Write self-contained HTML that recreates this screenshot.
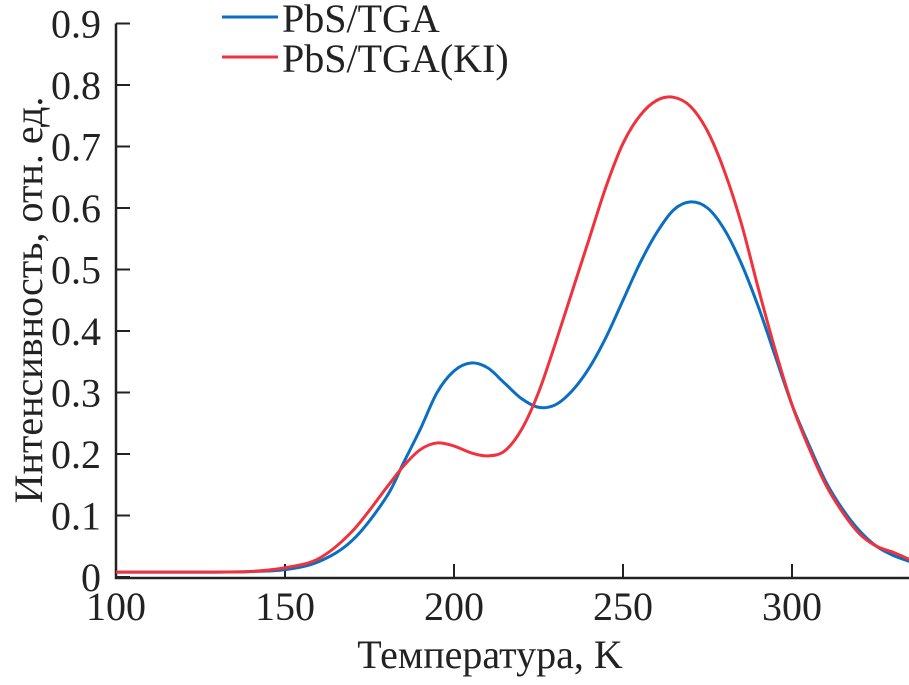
<!DOCTYPE html>
<html><head><meta charset="utf-8"><style>
body{margin:0;background:#fff;width:909px;height:680px;overflow:hidden}
svg text{font-family:"Liberation Serif","DejaVu Serif",serif;fill:#222}
</style></head><body>
<svg id="chart" width="909" height="680" viewBox="0 0 909 680" xmlns="http://www.w3.org/2000/svg" font-family="Liberation Serif, DejaVu Serif, serif">
<g id="axes"></g>
<g id="series"></g>
<g>
<line x1="222" y1="17" x2="278" y2="17" stroke="#0a6fc2" stroke-width="3"/>
<text x="282" y="32" font-size="40" font-family="Liberation Serif, serif">PbS/TGA</text>
<line x1="222" y1="57" x2="278" y2="57" stroke="#f0323c" stroke-width="3"/>
<text x="282" y="72" font-size="40" font-family="Liberation Serif, serif">PbS/TGA(KI)</text>
</g>
<text x="490" y="668" font-size="40" text-anchor="middle" font-family="Liberation Serif, serif">Температура, K</text>
<text transform="translate(42,300) rotate(-90)" font-size="40" text-anchor="middle" font-family="Liberation Serif, serif">Интенсивность, отн. ед.</text>
</svg>
<script>
const xTicks=[100,150,200,250,300];
const yTicks=[0,0.1,0.2,0.3,0.4,0.5,0.6,0.7,0.8,0.9];
const yLabels=["0","0.1","0.2","0.3","0.4","0.5","0.6","0.7","0.8","0.9"];
const temps=[100,110,120,130,140,150,160,170,180,185,190,195,200,205,210,215,220,225,230,235,240,245,250,255,260,265,270,275,280,285,290,295,300,305,310,315,320,325,330,335];
const tgaValues=[0.008,0.008,0.008,0.008,0.009,0.012,0.025,0.06,0.13,0.185,0.24,0.3,0.335,0.348,0.34,0.315,0.29,0.276,0.28,0.303,0.34,0.39,0.45,0.51,0.56,0.597,0.61,0.6,0.565,0.51,0.44,0.36,0.28,0.215,0.155,0.11,0.075,0.05,0.035,0.025];
const kiValues=[0.008,0.008,0.008,0.008,0.009,0.015,0.03,0.075,0.145,0.18,0.207,0.218,0.213,0.202,0.197,0.205,0.24,0.3,0.38,0.465,0.55,0.635,0.705,0.75,0.775,0.78,0.765,0.725,0.66,0.575,0.47,0.37,0.28,0.21,0.15,0.105,0.07,0.05,0.04,0.028];
const X=v=>116+(v-100)*3.38;
const Y=v=>577-v*615;
const NS="http://www.w3.org/2000/svg";
function mk(t,a,p){const e=document.createElementNS(NS,t);for(const k in a)e.setAttribute(k,a[k]);p.appendChild(e);return e;}
const ax=document.getElementById('axes');
let l=mk('path',{d:`M116 ${Y(0.9)} V578 H909`,fill:'none',stroke:'#222','stroke-width':2.5},ax);


xTicks.forEach(t=>{
 const tk=mk('line',{x1:X(t),x2:X(t),y1:578,y2:564,stroke:'#222','stroke-width':2},ax);
 
 
 const tx=mk('text',{x:X(t),y:620,'font-size':40,'text-anchor':'middle','font-family':'Liberation Serif, serif'},ax);tx.textContent=t;
 
 
});
yTicks.forEach((t,i)=>{
 const tk=mk('line',{x1:116,x2:130,y1:Y(t),y2:Y(t),stroke:'#222','stroke-width':2},ax);
 
 
 const tx=mk('text',{x:101,y:Y(t)+14,'font-size':40,'text-anchor':'end','font-family':'Liberation Serif, serif'},ax);tx.textContent=yLabels[i];
 
 
});
function pathFor(vals){
 const p=temps.map((t,i)=>[X(t),Y(vals[i])]);
 let d=`M${p[0][0]} ${p[0][1]}`;
 for(let i=0;i<p.length-1;i++){
  const p0=p[i-1]||p[i],p1=p[i],p2=p[i+1],p3=p[i+2]||p2;
  d+=` C${p1[0]+(p2[0]-p0[0])/6} ${p1[1]+(p2[1]-p0[1])/6} ${p2[0]-(p3[0]-p1[0])/6} ${p2[1]-(p3[1]-p1[1])/6} ${p2[0]} ${p2[1]}`;
 }
 return d;
}
const sg=document.getElementById('series');
const s1=mk('path',{d:pathFor(tgaValues),fill:'none',stroke:'#0a6fc2','stroke-width':3},sg);


const s2=mk('path',{d:pathFor(kiValues),fill:'none',stroke:'#f0323c','stroke-width':3},sg);


</script>
</body></html>
